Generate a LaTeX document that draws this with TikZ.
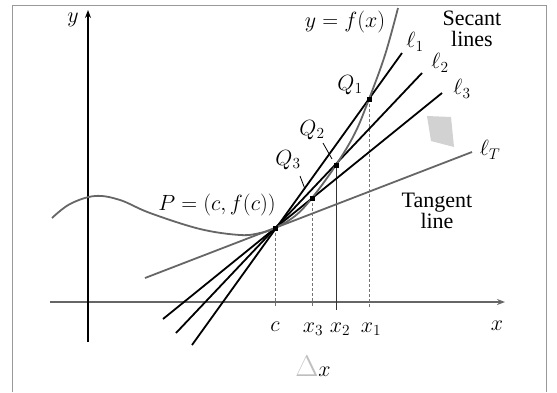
\documentclass[tikz,border=0pt]{standalone}
\usepackage{fix-cm}
\usepackage{fontspec}
\setmainfont{Liberation Serif}
\usetikzlibrary{arrows.meta}
\begin{document}
\begin{tikzpicture}[x=1pt,y=-1pt,
  lbl/.style={font=\fontsize{22}{25}\selectfont, inner sep=0pt},
  secant/.style={line width=1.8pt, black},
  tangentln/.style={line width=1.8pt, black!60},
  curveln/.style={line width=1.8pt, black!60},
  axisln/.style={line width=1.6pt, black!60, -{Stealth[length=8pt,width=6pt]}},
  yaxisln/.style={line width=1.4pt, black, -{Stealth[length=8pt,width=6pt]}},
  guide/.style={line width=1pt, black!55, dash pattern=on 3pt off 2pt},
  guidesolid/.style={line width=1pt, black!80},
  leader/.style={line width=0.8pt, black},
  dotpt/.style={fill=black, inner sep=0pt, minimum size=5pt, rectangle}
]
\useasboundingbox (0,0) rectangle (557,392);
\draw[black!40, line width=0.8pt] (12,392) -- (12,5) -- (546,5) -- (546,392);

% key points
\coordinate (P) at (275,228);
\coordinate (Q1) at (369,99);
\coordinate (Q2) at (336,165);
\coordinate (Q3) at (312,198);

% axes
\coordinate (xs) at (50,302);
\coordinate (xe) at (505,302);
\coordinate (ys) at (88,342);
\coordinate (ye) at (88,10);
\draw[axisln] (xs) -- (xe);
\draw[yaxisln] (ys) -- (ye);

% guide lines
\coordinate (cF) at (275,307);
\coordinate (x3F) at (312,307);
\coordinate (x2F) at (336,310);
\coordinate (x1F) at (369,307);
\draw[guide] (P) -- (cF);
\draw[guide] (Q3) -- (x3F);
\draw[guidesolid] (Q2) -- (x2F);
\draw[guide] (Q1) -- (x1F);

% tangent and secant lines
\coordinate (lTa) at (145,278);
\coordinate (lTb) at (472,152);
\coordinate (l3a) at (163,319);
\coordinate (l3b) at (442,93);
\coordinate (l2a) at (176,333);
\coordinate (l2b) at (422,73);
\coordinate (l1a) at (192,345);
\coordinate (l1b) at (402,53);
\draw[tangentln] (lTa) -- (lTb);
\draw[secant] (l3a) -- (l3b);
\draw[secant] (l2a) -- (l2b);
\draw[secant] (l1a) -- (l1b);

% curve y = f(x)
\draw[curveln] plot[smooth, tension=0.6] coordinates {
  (52,218) (70,204) (95,196) (120,200) (150,213) (200,229) (240,235)
  (260,233) (275,228) (295,216) (312,198) (336,165) (355,133) (369,99)
  (385,55) (398,8)};

% points
\node[dotpt] (Pd) at (P) {};
\node[dotpt] (Q1d) at (Q1) {};
\node[dotpt] (Q2d) at (Q2) {};
\node[dotpt] (Q3d) at (Q3) {};

% gray smudge
\fill[gray!35] (427,116) -- (451,117) -- (454,147) -- (431,141) -- cycle;

% labels
\node[lbl] (ylab) at (73,20) {$y$};
\node[lbl] (xlab) at (497,326) {$x$};
\node[lbl] (clab) at (275,327) {$c$};
\node[lbl] (x3lab) at (313,329) {$x_3$};
\node[lbl] (x2lab) at (340,329) {$x_2$};
\node[lbl] (x1lab) at (371,329) {$x_1$};
\node[lbl] (dx) at (313,366) {{\color{gray!50}\fontsize{30}{30}\selectfont$\Delta$}$x$};
\node[lbl] (flab) at (345,22) {$y=f(x)$};
\node[lbl, align=center] (seclab) at (472,29) {Secant\\[-4pt]lines};
\node[lbl, align=center] (tanlab) at (437,211) {Tangent\\[-4pt]line};
\node[lbl] (l1lab) at (415,42) {$\ell_1$};
\node[lbl] (l2lab) at (440,63) {$\ell_2$};
\node[lbl] (l3lab) at (462,89) {$\ell_3$};
\node[lbl] (lTlab) at (490,150) {$\ell_T$};
\node[lbl] (Q1lab) at (350,85) {$Q_1$};
\node[lbl] (Q2lab) at (312,130) {$Q_2$};
\node[lbl] (Q3lab) at (288,160) {$Q_3$};
\node[lbl] (Plab) at (217,205) {$P=(c,f(c))$};

% leaders
\coordinate (L2a) at (323,143);
\coordinate (L2b) at (332,159);
\coordinate (L3a) at (300,176);
\coordinate (L3b) at (305,189);
\draw[leader] (L2a) -- (L2b);
\draw[leader] (L3a) -- (L3b);
\end{tikzpicture}
\end{document}
